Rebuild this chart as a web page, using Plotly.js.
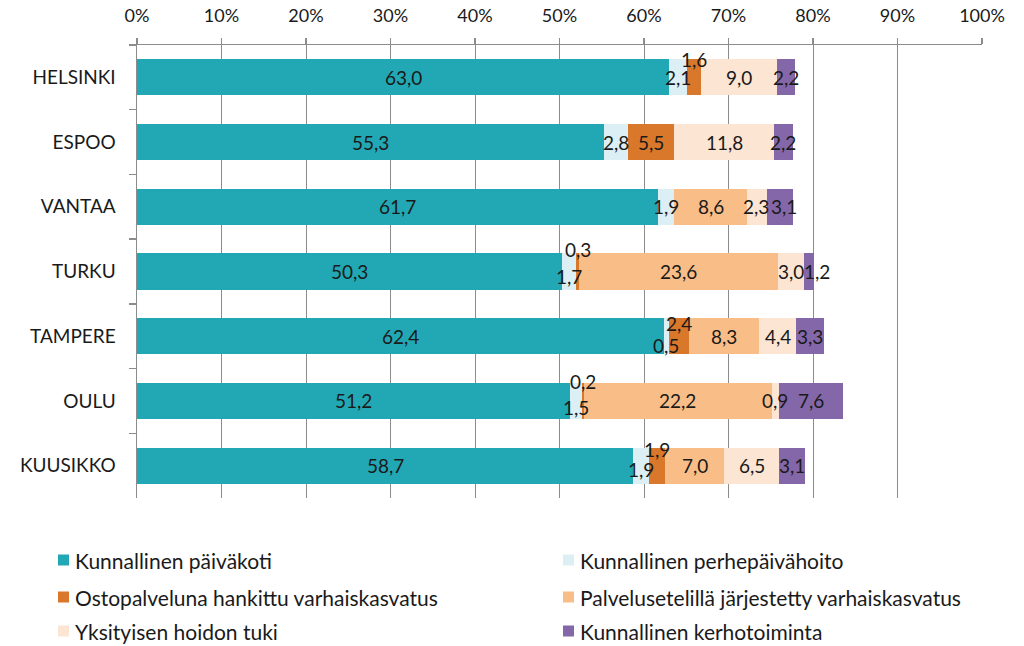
<!DOCTYPE html>
<html><head><meta charset="utf-8">
<script src="https://cdn.plot.ly/plotly-3.0.1.min.js"></script>
<style>body{margin:0;background:#fff}#chart{width:1024px;height:646px}</style>
</head><body><div id="chart"></div>
<script>
const categories = ["HELSINKI","ESPOO","VANTAA","TURKU","TAMPERE","OULU","KUUSIKKO"];
const seriesNames = ["Kunnallinen päiväkoti","Kunnallinen perhepäivähoito","Ostopalveluna hankittu varhaiskasvatus","Palvelusetelillä järjestetty varhaiskasvatus","Yksityisen hoidon tuki","Kunnallinen kerhotoiminta"];
const paivakoti      = [63.0, 55.3, 61.7, 50.3, 62.4, 51.2, 58.7];
const perhepaiva     = [2.1, 2.8, 1.9, 1.7, 0.5, 1.5, 1.9];
const ostopalvelu    = [1.6, 5.5, 0, 0.3, 2.4, 0.2, 1.9];
const palveluseteli  = [0, 0, 8.6, 23.6, 8.3, 22.2, 7.0];
const yksityinen     = [9.0, 11.8, 2.3, 3.0, 4.4, 0.9, 6.5];
const kerho          = [2.2, 2.2, 3.1, 1.2, 3.3, 7.6, 3.1];
const tickVals  = [0,10,20,30,40,50,60,70,80,90,100];
const tickText  = ["0%","10%","20%","30%","40%","50%","60%","70%","80%","90%","100%"];

const series = [paivakoti, perhepaiva, ostopalvelu, palveluseteli, yksityinen, kerho];
const colors = ["#22A8B4","#DCEFF5","#D9772B","#F9BD87","#FCE5D3","#8467A8"];
// label offsets (px) for crowded small segments: [seriesIndex][categoryIndex]
const labelShiftY = {
  1: {0: 0, 3: -5, 4: -9, 5: -7, 6: -4},
  2: {0: 18, 3: 22, 4: 13, 5: 19, 6: 16}
};
const labelShiftX = {
  4: {2: -1, 3: 0},
  5: {2: 4, 3: 8}
};

const FONT = "Lato, 'Open Sans', sans-serif";
const TXT = "#1a1a1a";

// plot area in pixels
const L = 137, R = 982, T = 45, B = 498;
const px2x = p => (p - L) / (R - L);
const py2y = p => (B - p) / (B - T);

const traces = series.map((vals, i) => ({
  type: "bar", orientation: "h", name: seriesNames[i],
  x: vals, y: categories, marker: {color: colors[i], line: {width: 0}},
  hoverinfo: "x+name", showlegend: false
}));

const annotations = [];
categories.forEach((c, ci) => {
  let cum = 0;
  series.forEach((vals, si) => {
    const v = vals[ci];
    if (v > 0) {
      const sy = (labelShiftY[si] && labelShiftY[si][ci]) || 0;
      const sx = (labelShiftX[si] && labelShiftX[si][ci]) || 0;
      annotations.push({
        x: cum + v / 2, y: c, xref: "x", yref: "y",
        text: v.toFixed(1).replace(".", ","), showarrow: false,
        yshift: sy, xshift: sx, font: {family: FONT, size: 19, color: TXT}
      });
    }
    cum += v;
  });
});

// legend: 2 columns x 3 rows
const legCols = [58, 563], legRows = [560, 597, 631];
const shapes = [];
seriesNames.forEach((name, i) => {
  const cx = legCols[i % 2], cy = legRows[Math.floor(i / 2)];
  shapes.push({type: "rect", xref: "paper", yref: "paper",
    x0: px2x(cx), x1: px2x(cx + 11), y0: py2y(cy + 5.5), y1: py2y(cy - 5.5),
    fillcolor: colors[i], line: {width: 0}});
  annotations.push({xref: "paper", yref: "paper", x: px2x(cx + 15), y: py2y(cy),
    xanchor: "left", yanchor: "middle", text: name, showarrow: false,
    font: {family: FONT, size: 21, color: TXT}});
});

const layout = {
  width: 1024, height: 646,
  margin: {l: L, r: 1024 - R, t: T, b: 646 - B},
  paper_bgcolor: "#fff", plot_bgcolor: "#fff",
  barmode: "stack", bargap: 0.44,
  showlegend: false,
  xaxis: {
    side: "top", range: [0, 100], tickmode: "array", tickvals: tickVals, ticktext: tickText,
    showgrid: true, gridcolor: "#8c8c8c", gridwidth: 1,
    showline: true, linecolor: "#8c8c8c", linewidth: 1.5,
    ticks: "outside", ticklen: 6, tickcolor: "#8c8c8c", tickwidth: 1.5,
    ticklabelstandoff: 8,
    zeroline: false, fixedrange: true,
    tickfont: {family: FONT, size: 18, color: TXT}
  },
  yaxis: {
    type: "category", autorange: "reversed",
    showline: true, linecolor: "#8c8c8c", linewidth: 1.5,
    ticks: "outside", tickson: "boundaries", ticklen: 7, tickcolor: "#8c8c8c", tickwidth: 1.5,
    ticklabelstandoff: 16, showgrid: false, fixedrange: true,
    tickfont: {family: FONT, size: 19, color: TXT}
  },
  shapes: shapes,
  annotations: annotations
};

Plotly.newPlot("chart", traces, layout, {displayModeBar: false, staticPlot: true});
</script></body></html>
